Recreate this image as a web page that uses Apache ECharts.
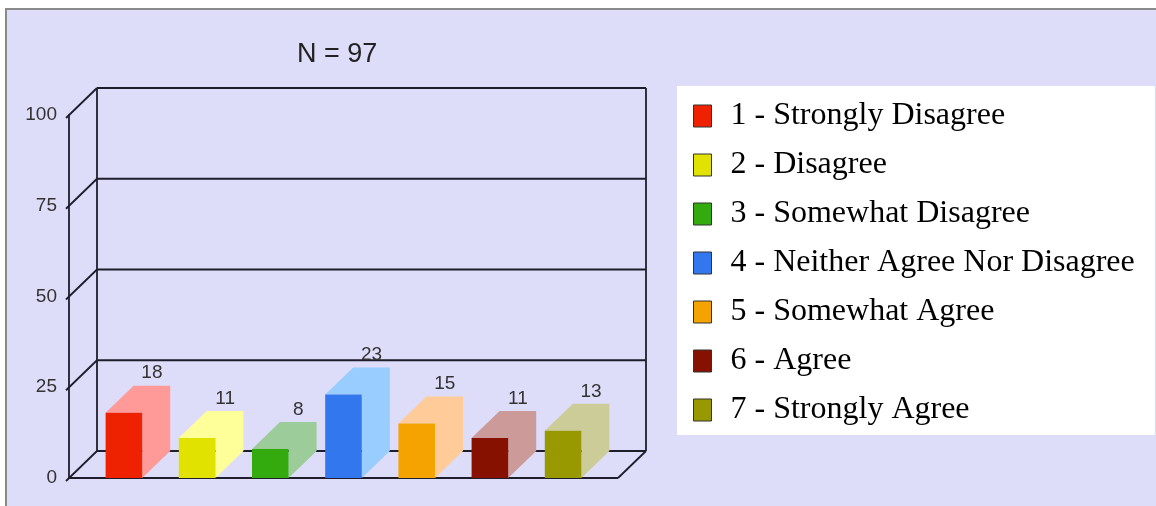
<!DOCTYPE html>
<html>
<head>
<meta charset="utf-8">
<title>N = 97</title>
<script src="https://cdn.jsdelivr.net/npm/echarts@6/dist/echarts.min.js"></script>
<style>
  html, body { margin: 0; padding: 0; background: #ffffff; }
  #panel {
    position: absolute; left: 5px; top: 8px; width: 1151px; height: 498px;
    background: #dddcf9; border-top: 2px solid #8a8a8a; border-left: 2px solid #8a8a8a;
    box-sizing: border-box;
  }
  #chart { position: absolute; left: 0; top: 0; width: 1156px; height: 506px; }
</style>
</head>
<body>
<div id="panel"></div>
<div id="chart"></div>
<script>
// Response categories and counts
const categories = [
  '1 - Strongly Disagree',
  '2 - Disagree',
  '3 - Somewhat Disagree',
  '4 - Neither Agree Nor Disagree',
  '5 - Somewhat Agree',
  '6 - Agree',
  '7 - Strongly Agree'
];
const values = [18, 11, 8, 23, 15, 11, 13];
const yTicks = [0, 25, 50, 75, 100];
const titleText = 'N = 97';

// Face colours: front face, and the lighter top/side faces
const frontColors = ['#ee2200', '#e2e200', '#33aa0e', '#3377ee', '#f5a300', '#861100', '#989900'];
const sideColors  = ['#ff9a99', '#ffff99', '#9bcc99', '#99ccff', '#ffcc99', '#cc9a99', '#cccc99'];

// Pseudo-3D depth offset (pixels) and axis extents
const DX = 28, DY = 27;
const X_MIN = -0.75, X_MAX = categories.length - 0.25;
const Y_MIN = 0, Y_MAX = 100;
const BAR_W = 0.5;
const LINE = '#1d1d2b', LW = 1.8;

function seg(x1, y1, x2, y2) {
  return { type: 'line', shape: { x1, y1, x2, y2 }, style: { stroke: LINE, lineWidth: LW } };
}

// Back wall gridlines, left wall, floor and back verticals
function renderFrame(params, api) {
  const v = api.value(1);
  const a = api.coord([X_MIN, v]);
  const b = api.coord([X_MAX, v]);
  const children = [
    seg(a[0] + DX, a[1] - DY, b[0] + DX, b[1] - DY),
    seg(a[0] - 3, a[1] + 3, a[0] + DX, a[1] - DY)
  ];
  if (v === Y_MIN) {
    const at = api.coord([X_MIN, Y_MAX]);
    const bt = api.coord([X_MAX, Y_MAX]);
    children.push(seg(a[0], a[1], b[0], b[1]));
    children.push(seg(b[0], b[1], b[0] + DX, b[1] - DY));
    children.push(seg(a[0] + DX, a[1] - DY, at[0] + DX, at[1] - DY));
    children.push(seg(b[0] + DX, b[1] - DY, bt[0] + DX, bt[1] - DY));
  }
  return { type: 'group', children };
}

function makeBarRenderer(idx) {
  return function (params, api) {
    const x = api.value(0), v = api.value(1);
    const top = api.coord([x, v]);
    const base = api.coord([x, 0]);
    const w = api.size([BAR_W, 0])[0];
    const x0 = top[0] - w / 2, x1 = top[0] + w / 2;
    const yt = top[1], yb = base[1];
    return {
      type: 'group',
      children: [
        {
          type: 'polygon',
          shape: { points: [[x0, yt], [x0 + DX, yt - DY], [x1 + DX, yt - DY], [x1 + DX, yb - DY], [x1, yb], [x1, yt]] },
          style: { fill: sideColors[idx] }
        },
        {
          type: 'rect',
          shape: { x: x0, y: yt, width: w, height: yb - yt },
          style: { fill: frontColors[idx] }
        },
        {
          type: 'text',
          x: top[0] + DX, y: yt - DY - 3,
          style: {
            text: String(v), fill: '#333333', align: 'center', verticalAlign: 'bottom',
            font: '19px "Liberation Sans", Arial, sans-serif'
          },
          z2: 10
        }
      ]
    };
  };
}

const series = [{
  type: 'custom',
  name: 'frame',
  silent: true,
  renderItem: renderFrame,
  data: yTicks.map(v => [0, v]),
  z: 1
}];
categories.forEach((name, i) => {
  series.push({
    type: 'custom',
    name: name,
    renderItem: makeBarRenderer(i),
    itemStyle: { color: frontColors[i] },
    data: [[i, values[i]]],
    z: 2
  });
});

const chart = echarts.init(document.getElementById('chart'), null, { renderer: 'canvas' });
chart.setOption({
  animation: false,
  backgroundColor: 'transparent',
  title: {
    text: titleText,
    left: 292, top: 36,
    textStyle: { fontFamily: '"Liberation Sans", Arial, sans-serif', fontSize: 27, fontWeight: 'normal', color: '#222222' }
  },
  grid: { left: 69, top: 115, right: 538, bottom: 28 },
  xAxis: {
    type: 'value', min: X_MIN, max: X_MAX, show: false
  },
  yAxis: {
    type: 'value', min: Y_MIN, max: Y_MAX, interval: 25,
    axisLine: { show: true, onZero: false, lineStyle: { color: LINE, width: LW } },
    axisTick: { show: false },
    splitLine: { show: false },
    axisLabel: { margin: 12, color: '#333333', fontSize: 19, fontFamily: '"Liberation Sans", Arial, sans-serif' }
  },
  legend: {
    data: categories,
    orient: 'vertical',
    left: 677, top: 86,
    backgroundColor: '#ffffff',
    padding: [14, 20, 9, 16],
    itemWidth: 18, itemHeight: 22, itemGap: 17,
    icon: 'rect',
    itemStyle: { borderColor: '#333333', borderWidth: 1 },
    selectedMode: false,
    textStyle: {
      fontFamily: '"Liberation Serif", "Times New Roman", serif',
      fontSize: 32, lineHeight: 32, color: '#000000',
      padding: [0, 0, 0, 14]
    }
  },
  series: series
});
</script>
</body>
</html>
